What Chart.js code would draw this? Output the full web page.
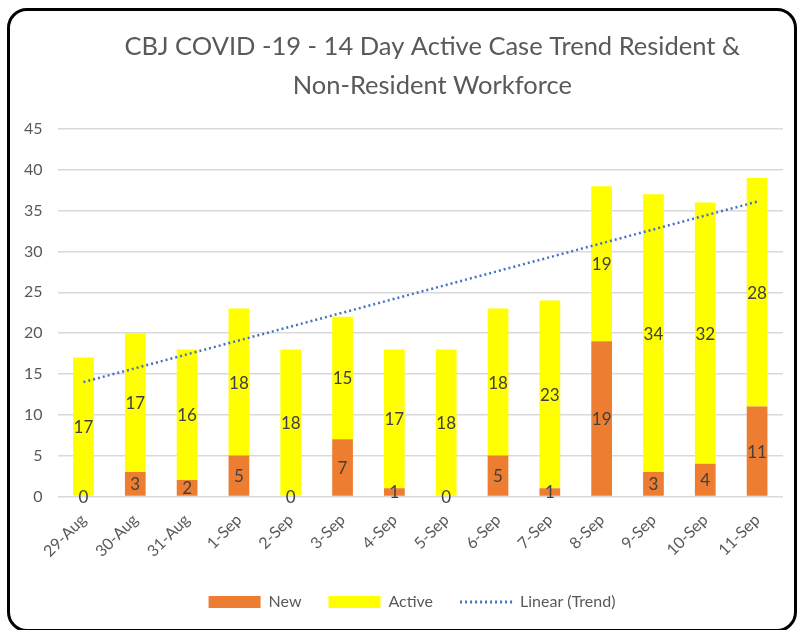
<!DOCTYPE html>
<html>
<head>
<meta charset="utf-8">
<script src="https://cdn.jsdelivr.net/npm/chart.js@4"></script>
<style>
  html, body { margin: 0; padding: 0; background: #fff; }
  #wrap { position: relative; width: 798px; height: 630px; }
  #frame {
    position: absolute; left: 7px; top: 8px; width: 790px; height: 624px;
    box-sizing: border-box; border: 3px solid #000; border-radius: 20px;
    pointer-events: none;
  }
</style>
</head>
<body>
<div id="wrap">
  <canvas id="caseChart" width="798" height="630"></canvas>
  <div id="frame"></div>
</div>
<script>
// Chart data
const days = ['29-Aug', '30-Aug', '31-Aug', '1-Sep', '2-Sep', '3-Sep', '4-Sep',
              '5-Sep', '6-Sep', '7-Sep', '8-Sep', '9-Sep', '10-Sep', '11-Sep'];
const newCases = [0, 3, 2, 5, 0, 7, 1, 0, 5, 1, 19, 3, 4, 11];
const activeCases = [17, 17, 16, 18, 18, 15, 17, 18, 18, 23, 19, 34, 32, 28];
const trendValues = [14.0, 15.7, 17.4, 19.1, 20.8, 22.5, 24.2, 25.9, 27.6, 29.3, 31.0, 32.7, 34.4, 36.1];
const titleLines = ['CBJ COVID -19 - 14 Day Active Case Trend Resident &', 'Non-Resident Workforce'];

const FONT = 'Lato, "Open Sans", sans-serif';
const textGrey = '#595959';

// Two-line title, centred a little right of the plot centre like the original
const titlePlugin = {
    id: 'twoLineTitle',
    afterDraw(chart) {
        const ctx = chart.ctx;
        const area = chart.chartArea;
        const cx = (area.left + area.right) / 2 + 12;
        ctx.save();
        ctx.font = '25.5px ' + FONT;
        ctx.fillStyle = textGrey;
        ctx.textAlign = 'center';
        ctx.textBaseline = 'alphabetic';
        ctx.fillText(titleLines[0], cx, 55);
        ctx.fillText(titleLines[1], cx, 94);
        ctx.restore();
    }
};

// Legend in the original sits centred under the plot, not the whole canvas
const legendShift = {
    id: 'legendShift',
    afterLayout(chart) {
        const lg = chart.legend;
        if (!lg) return;
        lg.left += 16;
        lg.right += 16;
    }
};

// Value labels in the middle of each bar segment
const barLabelPlugin = {
    id: 'barLabels',
    afterDatasetsDraw(chart) {
        const ctx = chart.ctx;
        ctx.save();
        ctx.font = '17px ' + FONT;
        ctx.fillStyle = '#404040';
        ctx.textAlign = 'center';
        ctx.textBaseline = 'middle';
        [0, 1].forEach(di => {
            const meta = chart.getDatasetMeta(di);
            const values = chart.data.datasets[di].data;
            meta.data.forEach((bar, i) => {
                const y = (bar.y + bar.base) / 2;
                ctx.fillText(String(values[i]), bar.x, y + 1);
            });
        });
        ctx.restore();
    }
};

const ctx = document.getElementById('caseChart').getContext('2d');
new Chart(ctx, {
    type: 'bar',
    data: {
        labels: days,
        datasets: [{
            label: 'New',
            data: newCases,
            backgroundColor: '#ED7D31',
            stack: 'cases'
        }, {
            label: 'Active',
            data: activeCases,
            backgroundColor: '#FFFF00',
            stack: 'cases'
        }, {
            type: 'line',
            label: 'Linear (Trend)',
            data: trendValues,
            borderColor: '#4472C4',
            borderWidth: 2.5,
            borderDash: [2, 3],
            pointRadius: 0,
            fill: false,
            tension: 0,
            stack: 'trend',
            order: -1
        }]
    },
    options: {
        responsive: false,
        animation: false,
        layout: {
            padding: { left: 9, right: 15, top: 129, bottom: 10 }
        },
        datasets: {
            bar: { barPercentage: 0.4, categoryPercentage: 1 }
        },
        plugins: {
            title: { display: false },
            tooltip: { enabled: false },
            legend: {
                position: 'bottom',
                labels: {
                    usePointStyle: true,
                    pointStyleWidth: 52,
                    boxHeight: 12,
                    padding: 27,
                    color: textGrey,
                    font: { family: FONT, size: 16 },
                    generateLabels(chart) {
                        return chart.data.datasets.map((ds, i) => {
                            const isLine = ds.type === 'line';
                            return {
                                text: ds.label,
                                datasetIndex: i,
                                fillStyle: isLine ? 'rgba(0,0,0,0)' : ds.backgroundColor,
                                strokeStyle: isLine ? ds.borderColor : ds.backgroundColor,
                                lineWidth: isLine ? 3 : 0,
                                lineDash: isLine ? [2, 3] : [],
                                pointStyle: isLine ? 'line' : 'rect',
                                fontColor: textGrey,
                                hidden: false
                            };
                        });
                    }
                }
            }
        },
        scales: {
            x: {
                stacked: true,
                grid: { display: false },
                border: { display: false },
                ticks: {
                    color: textGrey,
                    font: { family: FONT, size: 16 },
                    minRotation: 45,
                    maxRotation: 45,
                    padding: 6
                },
                // rotated first label hangs under the y axis, so no extra side padding
                afterFit(scale) {
                    scale.paddingLeft = 0;
                    scale.paddingRight = 0;
                }
            },
            y: {
                stacked: true,
                min: 0,
                max: 45,
                grid: { color: '#D9D9D9', lineWidth: 1.5, drawTicks: false },
                border: { display: false },
                ticks: {
                    stepSize: 5,
                    color: textGrey,
                    font: { family: FONT, size: 16 },
                    padding: 15
                },
                afterFit(scale) {
                    scale.paddingTop = 0;
                }
            }
        }
    },
    plugins: [titlePlugin, legendShift, barLabelPlugin]
});
</script>
</body>
</html>
